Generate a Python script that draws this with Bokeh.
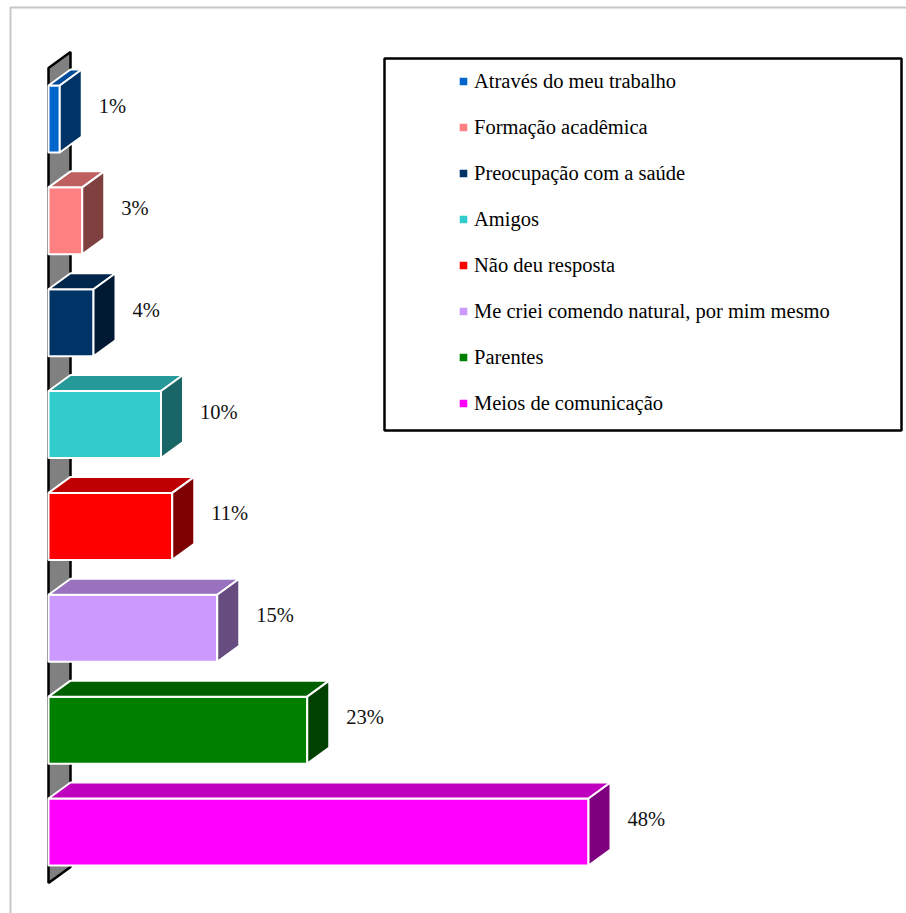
from bokeh.plotting import figure
from bokeh.models import Range1d, Legend, LegendItem
from bokeh.core.properties import value
from bokeh.embed import file_html
from bokeh.resources import INLINE

# ---------------- data ----------------
categories = [
    "Através do meu trabalho",
    "Formação acadêmica",
    "Preocupação com a saúde",
    "Amigos",
    "Não deu resposta",
    "Me criei comendo natural, por mim mesmo",
    "Parentes",
    "Meios de comunicação",
]
percent = [1, 3, 4, 10, 11, 15, 23, 48]
colors = ["#0066CC", "#FF8080", "#003366", "#33CCCC",
          "#FF0000", "#CC99FF", "#008000", "#FF00FF"]

# ---------------- layout constants (pixels) ----------------
W, H = 906, 913
PX_PCT = 11.25      # pixels per percent
PX_CAT = 101.86     # pixels per category step
X0_PX = 48          # pixel x of 0 %
YB_PX = 831.5       # pixel y (from top) of the bottom category centre
FONT = "Liberation Serif"
FSIZE = "20.5px"

x_start = -X0_PX / PX_PCT
y_start = -(H - YB_PX) / PX_CAT


def sx(px):
    return x_start + px / PX_PCT


def sy(py):
    return y_start + (H - py) / PX_CAT


DX = 22 / PX_PCT
DY = 16 / PX_CAT
BAR_H = 67 / PX_CAT
LABEL_GAP = 17 / PX_PCT
LABEL_DY = 13 / PX_CAT


def shade(hexcol, f):
    h = hexcol.lstrip("#")
    r, g, b = (int(h[i:i + 2], 16) for i in (0, 2, 4))
    return "#%02x%02x%02x" % (int(r * f), int(g * f), int(b * f))


p = figure(width=W, height=H,
           x_range=Range1d(x_start, x_start + W / PX_PCT),
           y_range=Range1d(y_start, y_start + H / PX_CAT),
           output_backend="svg", toolbar_location=None,
           x_axis_type=None, y_axis_type=None,
           min_border=0, outline_line_color=None,
           background_fill_color="white", border_fill_color="white")
p.grid.visible = False

# outer chart border (light gray)
p.quad(left=[sx(10)], right=[sx(W + 30)], top=[sy(7)], bottom=[sy(H + 30)],
       fill_color=None, line_color="#C8C8C8", line_width=2)

n = len(categories)

# side wall
p.patch(x=[0, 0, DX, DX],
        y=[-0.5, n - 0.5, n - 0.5 + DY, -0.5 + DY],
        fill_color="#808080", line_color="black", line_width=2.5)

# bars
front_renderers = []
for i, (cat, v, c) in enumerate(zip(categories, percent, colors)):
    yc = n - 1 - i
    bot, top = yc - BAR_H / 2, yc + BAR_H / 2
    # front face
    r = p.quad(left=[0], right=[v], bottom=[bot], top=[top],
               fill_color=c, line_color="white", line_width=2)
    front_renderers.append(r)
    # top face
    p.patch(x=[0, v, v + DX, DX], y=[top, top, top + DY, top + DY],
            fill_color=shade(c, 0.75), line_color="white", line_width=2)
    # right face
    p.patch(x=[v, v + DX, v + DX, v], y=[bot, bot + DY, top + DY, top],
            fill_color=shade(c, 0.5), line_color="white", line_width=2)

# data labels
p.text(x=[v + DX + LABEL_GAP for v in percent],
       y=[n - 1 - i + LABEL_DY for i in range(n)],
       text=["%d%%" % v for v in percent],
       text_font=value(FONT), text_font_size=FSIZE,
       text_baseline="middle", text_align="left", text_color="#111111")

# legend frame
p.quad(left=[sx(384)], right=[sx(901)], top=[sy(58)], bottom=[sy(430)],
       fill_color=None, line_color="black", line_width=2.5)

# legend items
items = [LegendItem(label=cat, renderers=[r])
         for cat, r in zip(categories, front_renderers)]

ITEM_H, SPACING = 24, 22
legend = Legend(items=items,
                location=(457, int(round(H - 69.5 - (8 * ITEM_H + 7 * SPACING)))),
                glyph_width=12, glyph_height=12, label_height=ITEM_H,
                spacing=SPACING, padding=0, margin=0,
                border_line_color=None, background_fill_alpha=0,
                label_standoff=5,
                label_text_font=FONT,
                label_text_font_size=FSIZE, label_text_color="black")
p.add_layout(legend)

open("out.html", "w").write(file_html(p, INLINE))
